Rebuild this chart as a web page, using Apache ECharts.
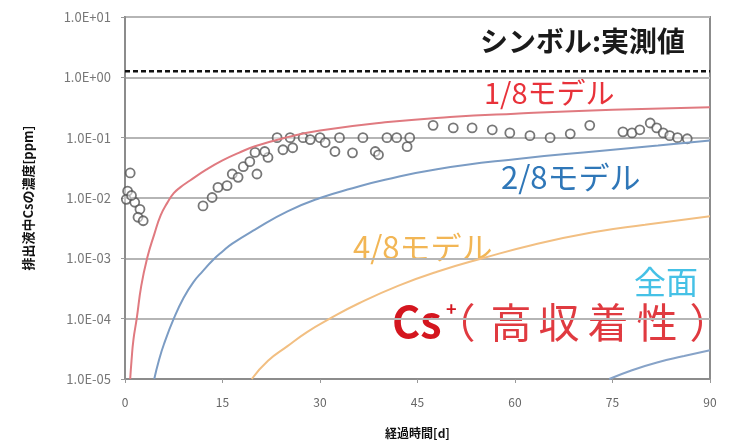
<!DOCTYPE html>
<html>
<head>
<meta charset="utf-8">
<script src="https://cdn.jsdelivr.net/npm/echarts@6/dist/echarts.min.js"></script>
<style>
  html, body { margin: 0; padding: 0; background: #fff; }
  #chart { width: 738px; height: 444px; }
</style>
</head>
<body>
<div id="chart"></div>
<script>
// measured values (time [d], concentration [ppm])
const measured = [
  [0.8, 0.026], [0.4, 0.013], [0.2, 0.0095], [1.5, 0.0085], [2.3, 0.0065],
  [2.0, 0.0048], [2.8, 0.0042], [1.0, 0.011],
  [12, 0.0074], [13.4, 0.0102], [14.3, 0.015], [15.7, 0.016], [16.5, 0.025],
  [17.4, 0.022], [18.2, 0.033], [19.2, 0.04], [20.3, 0.025], [20, 0.057],
  [22, 0.047], [21.5, 0.059], [24.3, 0.063], [23.4, 0.1], [25.8, 0.068],
  [25.4, 0.1], [27.4, 0.1], [28.5, 0.093], [30, 0.1], [30.8, 0.083],
  [32.3, 0.059], [33, 0.1], [35, 0.056], [36.6, 0.1], [38.5, 0.059],
  [39, 0.052], [40.3, 0.1], [41.8, 0.1], [43.4, 0.071], [43.8, 0.1],
  [47.4, 0.16], [50.5, 0.145], [53.4, 0.145], [56.5, 0.135], [59.2, 0.12],
  [62.3, 0.108], [65.4, 0.1], [68.5, 0.116], [71.5, 0.16], [76.6, 0.125],
  [78, 0.12], [79.2, 0.135], [80.8, 0.175], [81.8, 0.145], [82.8, 0.12],
  [83.8, 0.108], [85, 0.1], [86.5, 0.096]
];
// model curves
const model18 = [
  [0.8, 1e-5], [1.0, 2e-5], [1.3, 4.5e-5], [1.8, 1e-4], [2.5, 3.5e-4], [3.4, 1e-3],
  [4.5, 2.5e-3], [5.5, 5.2e-3], [6.5, 8.3e-3], [7.5, 1.2e-2], [8.5, 1.5e-2],
  [10, 0.0195], [12.5, 0.0295], [15, 0.042], [17.5, 0.056], [20, 0.072],
  [25, 0.102], [30, 0.132], [40, 0.18], [50, 0.22], [60, 0.25], [75, 0.29], [90, 0.32]
];
const model28 = [
  [4.5, 1e-5], [5.2, 2e-5], [6, 3.8e-5], [7.5, 1e-4], [9, 2.2e-4], [10.5, 4e-4],
  [12, 6.2e-4], [13.5, 9.3e-4], [15, 1.3e-3], [16.5, 1.75e-3], [20, 3e-3],
  [25, 6e-3], [30, 1e-2], [35, 1.45e-2], [40, 2e-2], [48, 3e-2], [60, 4.4e-2],
  [73, 6e-2], [82, 7.4e-2], [90, 9e-2]
];
const model48 = [
  [19.5, 1e-5], [22, 2e-5], [25, 3.5e-5], [28, 6e-5], [31.5, 1e-4], [36, 1.8e-4],
  [42, 3.5e-4], [48, 6e-4], [55, 1e-3], [63, 1.7e-3], [72, 2.7e-3], [80, 3.6e-3],
  [90, 5e-3]
];
const modelFull = [
  [74.5, 1e-5], [78, 1.4e-5], [82, 1.9e-5], [86, 2.4e-5], [90, 3e-5]
];
const limitLine = [[0, 1.26], [90, 1.26]];

function fmtExp(v) {
  const e = Math.round(Math.log10(v));
  const s = e < 0 ? '-' : '+';
  const d = Math.abs(e) < 10 ? '0' + Math.abs(e) : '' + Math.abs(e);
  return '1.0E' + s + d;
}

const chart = echarts.init(document.getElementById('chart'));
const font = '"Noto Sans CJK JP", "Noto Sans", sans-serif';

function curve(data, color) {
  return {
    type: 'line', data: data, symbol: 'none', smooth: 0.5,
    lineStyle: { color: color, width: 2 }
  };
}

// the wide-spaced "（高収着性）" note, one glyph at a time
const noteChars = ['（', '高', '収', '着', '性', '）'];
const noteX = [455, 511, 559, 608, 657, 710];
const noteGraphics = noteChars.map((c, i) => ({
  type: 'text', x: noteX[i], y: 322,
  style: { text: c, font: '41px ' + font, fill: '#e03a40',
           align: 'center', verticalAlign: 'middle' }
}));

chart.setOption({
  animation: false,
  textStyle: { fontFamily: font },
  grid: {
    left: 125, right: 28, top: 17, bottom: 63,
    show: true, borderColor: '#8c8c8c', borderWidth: 2
  },
  xAxis: {
    type: 'value', min: 0, max: 90, interval: 15,
    name: '経過時間[d]', nameLocation: 'middle', nameGap: 48,
    nameTextStyle: { color: '#111', fontWeight: 'bold', fontSize: 12 },
    axisLine: { lineStyle: { color: '#8c8c8c', width: 2 } },
    axisTick: { show: true, length: 4, lineStyle: { color: '#999' } },
    axisLabel: { color: '#666', fontSize: 12, margin: 17 },
    splitLine: { show: false }
  },
  yAxis: {
    type: 'log', logBase: 10, min: 1e-5, max: 10,
    name: '排出液中Csの濃度[ppm]', nameLocation: 'middle', nameGap: 90,
    nameTextStyle: { color: '#111', fontWeight: 'bold', fontSize: 13 },
    axisLine: { show: true, lineStyle: { color: '#8c8c8c', width: 2 } },
    axisTick: { show: true, length: 4, lineStyle: { color: '#999' } },
    axisLabel: { color: '#777', fontSize: 13, margin: 14, formatter: fmtExp },
    splitLine: { show: true, lineStyle: { color: '#b5b5b5', width: 2 } },
    minorSplitLine: { show: false }
  },
  series: [
    {
      type: 'line', data: limitLine, symbol: 'none',
      lineStyle: { color: '#111', width: 2.5, type: [5, 3] }
    },
    curve(model18, '#e07a80'),
    curve(model28, '#7b9cc4'),
    curve(model48, '#f2bf82'),
    curve(modelFull, '#87a3c8'),
    {
      type: 'scatter', data: measured, symbol: 'circle', symbolSize: 9,
      itemStyle: { color: 'rgba(255,255,255,0.6)', borderColor: '#555', borderWidth: 1.8 }
    }
  ],
  graphic: [
    { type: 'text', x: 480, y: 41,
      style: { text: 'シンボル:実測値', font: 'bold 28px ' + font, fill: '#1a1a1a', verticalAlign: 'middle' } },
    { type: 'text', x: 484, y: 93,
      style: { text: '1/8モデル', font: '29px ' + font, fill: '#e8323a', verticalAlign: 'middle' } },
    { type: 'text', x: 501, y: 177,
      style: { text: '2/8モデル', font: '31px ' + font, fill: '#2f77b8', verticalAlign: 'middle' } },
    { type: 'text', x: 353, y: 247,
      style: { text: '4/8モデル', font: '31px ' + font, fill: '#f2b655', verticalAlign: 'middle' } },
    { type: 'text', x: 634, y: 282,
      style: { text: '全面', font: '32px ' + font, fill: '#45c1e6', verticalAlign: 'middle' } },
    { type: 'text', x: 392, y: 322,
      style: { text: 'Cs', font: 'bold 43px ' + font, fill: '#d4161f', verticalAlign: 'middle' } },
    { type: 'text', x: 446, y: 309,
      style: { text: '+', font: 'bold 18px ' + font, fill: '#d4161f', verticalAlign: 'middle' } }
  ].concat(noteGraphics)
});
</script>
</body>
</html>
